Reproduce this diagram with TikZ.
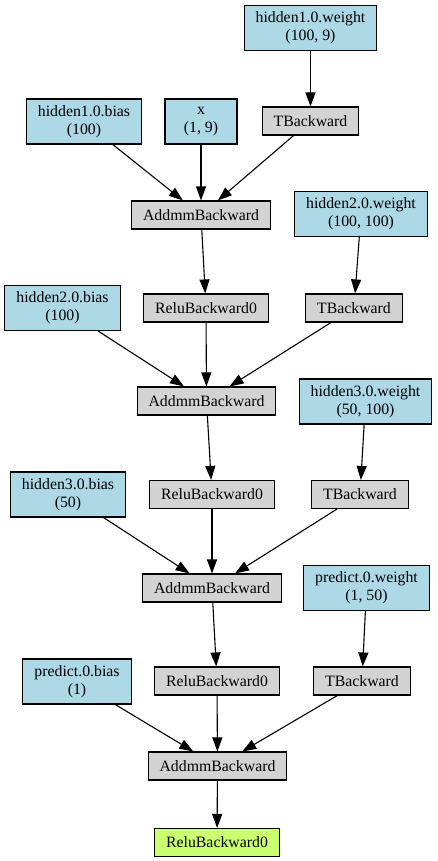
\documentclass[tikz,border=0pt]{standalone}
\usepackage{fontspec}
\setmainfont{Liberation Serif}
\usetikzlibrary{arrows.meta}
\definecolor{lblue}{HTML}{ADD8E6}
\definecolor{lgrey}{HTML}{D3D3D3}
\definecolor{lgreen}{HTML}{CAFF70}
\begin{document}
\begin{tikzpicture}[x=1pt,y=-1pt,
  box/.style={draw=black, line width=1.1pt, rectangle, inner xsep=11.5pt, inner ysep=0pt,
    font=\fontsize{15.8}{18}\selectfont, align=center, minimum width=72pt},
  param/.style={box, fill=lblue, minimum height=45pt},
  op/.style={box, fill=lgrey, minimum height=28pt},
  outn/.style={box, fill=lgreen, minimum height=28pt},
  edge/.style={line width=1.1pt, -{Triangle[length=14pt,width=10pt]}}]
\useasboundingbox (0,0) rectangle (438,861);
\node[param] (w1) at (310.5,28) {hidden1.0.weight\\(100, 9)};
\node[param] (b1) at (84,121.5) {hidden1.0.bias\\(100)};
\node[param] (x) at (201,121.5) {x\\(1, 9)};
\node[op] (t1) at (310.5,121) {TBackward};
\node[op] (a1) at (201,215) {AddmmBackward};
\node[param] (w2) at (361,214) {hidden2.0.weight\\(100, 100)};
\node[param] (b2) at (62.5,308) {hidden2.0.bias\\(100)};
\node[op] (r1) at (206,308) {ReluBackward0};
\node[op] (t2) at (354,308) {TBackward};
\node[op] (a2) at (206.5,401) {AddmmBackward};
\node[param] (w3) at (365.5,401.5) {hidden3.0.weight\\(50, 100)};
\node[param] (b3) at (68,494.5) {hidden3.0.bias\\(50)};
\node[op] (r2) at (212,494.5) {ReluBackward0};
\node[op] (t3) at (360,494.5) {TBackward};
\node[op] (a3) at (212,588) {AddmmBackward};
\node[param] (w4) at (366.5,588) {predict.0.weight\\(1, 50)};
\node[param] (b4) at (77,681.5) {predict.0.bias\\(1)};
\node[op] (r3) at (217,681) {ReluBackward0};
\node[op] (t4) at (362,681) {TBackward};
\node[op] (a4) at (217.5,766) {AddmmBackward};
\node[outn] (out) at (217,842.5) {ReluBackward0};
\draw[edge] (w1) -- (t1);
\draw[edge] (b1) -- (a1);
\draw[edge] (x) -- (a1);
\draw[edge] (t1) -- (a1);
\draw[edge] (a1) -- (r1);
\draw[edge] (w2) -- (t2);
\draw[edge] (b2) -- (a2);
\draw[edge] (r1) -- (a2);
\draw[edge] (t2) -- (a2);
\draw[edge] (a2) -- (r2);
\draw[edge] (w3) -- (t3);
\draw[edge] (b3) -- (a3);
\draw[edge] (r2) -- (a3);
\draw[edge] (t3) -- (a3);
\draw[edge] (a3) -- (r3);
\draw[edge] (w4) -- (t4);
\draw[edge] (b4) -- (a4);
\draw[edge] (r3) -- (a4);
\draw[edge] (t4) -- (a4);
\draw[edge] (a4) -- (out);
\end{tikzpicture}
\end{document}
